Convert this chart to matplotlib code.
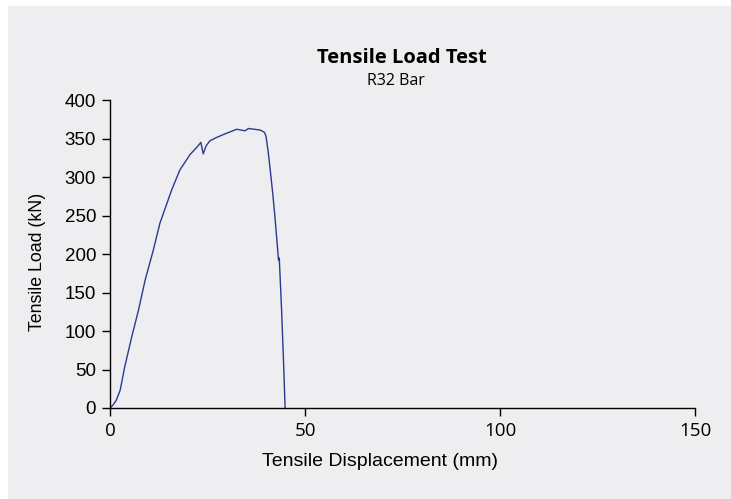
import matplotlib
matplotlib.use("Agg")
import matplotlib.pyplot as plt
from matplotlib.patches import Rectangle

displacement_mm = [0, 0.8, 1.6, 2.6, 3.8, 5.6, 7.3, 9.0, 11.1, 12.8, 15.8, 17.9, 20.5, 22.5, 23.3,
                   23.9, 24.6, 25.6, 27.2, 29.0, 31.0, 32.5, 33.6, 34.6, 35.5, 37.0, 38.5, 39.6,
                   40.0, 40.5, 41.0, 41.7, 42.3, 43.0, 43.2, 43.4, 44.0, 44.5, 44.9]
load_kN = [0, 4, 10, 23, 54, 93, 127, 166, 205, 240, 283, 309, 329, 340, 345,
           330, 340, 347, 351, 355, 359, 362, 361, 360, 363, 362, 361, 358,
           353, 335, 313, 280, 248, 205, 192, 195, 127, 60, 0]

x_ticks = [0, 50, 100, 150]
y_ticks = [0, 50, 100, 150, 200, 250, 300, 350, 400]

W, H = 731, 499
bg = "#eeeef0"
fig = plt.figure(figsize=(W / 100, H / 100), dpi=100)
fig.patch.set_facecolor("white")
fig.add_artist(Rectangle((8 / W, 0), 1 - 8 / W, 1 - 6 / H,
                         transform=fig.transFigure, facecolor=bg, edgecolor="none", zorder=-10))

ax = fig.add_axes([110 / W, 1 - 408 / H, 585 / W, 308 / H])
ax.set_zorder(5)
ax.set_facecolor("none")
ax.plot(displacement_mm, load_kN, color="#2b3990", lw=1.0)
ax.set_xlim(0, 150)
ax.set_ylim(0, 400)
ax.set_xticks(x_ticks)
ax.set_yticks(y_ticks)
for s in ["top", "right"]:
    ax.spines[s].set_visible(False)
for s in ["left", "bottom"]:
    ax.spines[s].set_linewidth(1.0)
    ax.spines[s].set_color("black")
ax.tick_params(axis="both", length=6, width=1.0, color="black")
ax.tick_params(axis="x", pad=4, labelsize=13.5)
ax.tick_params(axis="y", pad=4, labelsize=13.5)
for lab in ax.get_xticklabels():
    lab.set_fontfamily("Open Sans")
for lab in ax.get_yticklabels():
    lab.set_fontfamily("Liberation Sans")

fig.text(380.5 / W, 1 - 466 / H, "Tensile Displacement (mm)", ha="center", va="baseline",
         fontsize=14, family="Liberation Sans")
fig.text(37.5 / W, 1 - 261.7 / H, "Tensile Load (kN)", ha="center", va="center",
         rotation=90, fontsize=12.8, family="Liberation Sans")

fig.text(402 / W, 1 - 62.7 / H, "Tensile Load Test", ha="center", va="baseline",
         fontsize=14.5, fontweight="bold", family="Open Sans")
fig.text(396 / W, 1 - 85 / H, "R32 Bar", ha="center", va="baseline",
         fontsize=11.5, family="Open Sans")

fig.savefig("out.png", dpi=100, facecolor=fig.get_facecolor())
